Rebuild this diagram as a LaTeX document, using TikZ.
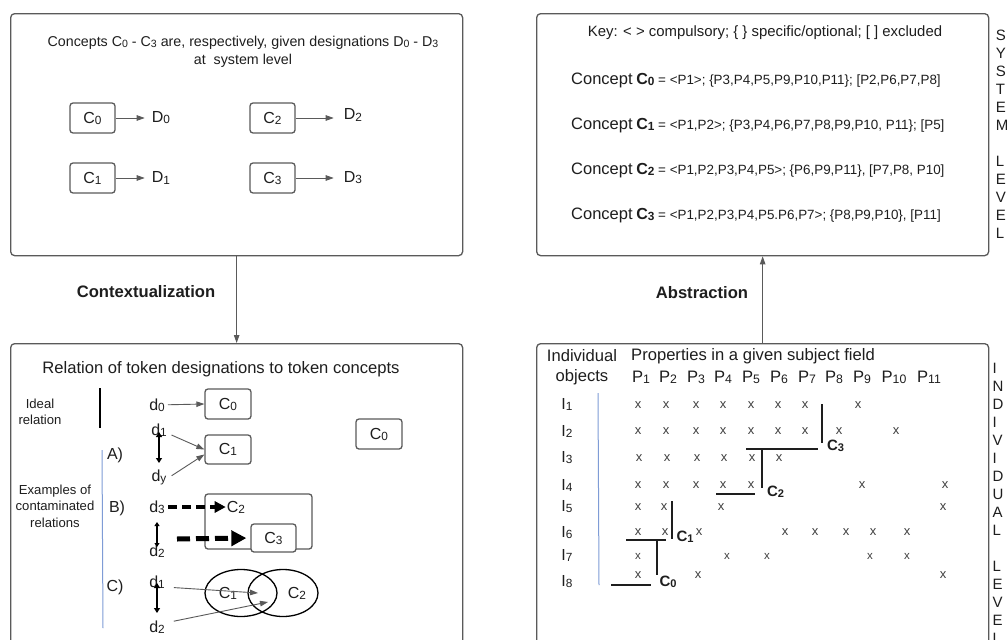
\documentclass[tikz,border=0pt]{standalone}
\usepackage{fontspec}
\setmainfont{Liberation Sans}
\usetikzlibrary{arrows.meta,shapes.geometric,calc}
\definecolor{gry}{HTML}{5A5A5A}
\definecolor{txt}{HTML}{1E1E1E}
\definecolor{bluel}{HTML}{7F9CD6}
\newcommand\fsz[2]{\fontsize{#1}{#2}\selectfont}
\newcommand\sbs[1]{\raisebox{-0.12ex}{\scalebox{0.74}{#1}}}
\tikzset{
  panel/.style={draw=gry, line width=1.3pt, rounded corners=4pt, anchor=north west, inner sep=0pt},
  cbox/.style={draw=gry, line width=1.3pt, rounded corners=3pt, minimum width=45pt, minimum height=30pt, inner sep=0pt, font=\fsz{16}{18}, fill=white, text=txt},
  arr/.style={draw=gry, line width=0.9pt, -{Triangle[length=8pt,width=5.5pt]}},
  dbl/.style={draw=black, line width=1.8pt, {Triangle[length=5pt,width=6pt]}-{Triangle[length=5pt,width=6pt]}},
  lbl/.style={font=\fsz{16}{18}, inner sep=0pt, text=txt},
  big/.style={font=\fsz{16.6}{19}, inner sep=0pt, text=txt},
  sml/.style={font=\fsz{13.1}{16.5}, inner sep=0pt, text=txt, align=center},
  xm/.style={font=\fsz{13}{14}, inner sep=0pt, text=txt!85},
  xs/.style={font=\fsz{11.5}{12}, inner sep=0pt, text=txt!85},
  brk/.style={draw=txt, line width=1.4pt},
  bl/.style={font=\bfseries\fsz{15}{17}, inner sep=0pt, text=txt},
  dsh/.style={draw=black, line width=3.6pt, dash pattern=on 9pt off 5pt, -{Triangle[length=11pt,width=11pt]}},
  dshb/.style={draw=black, line width=5pt, dash pattern=on 13pt off 6pt, -{Triangle[length=15pt,width=15pt]}},
  vlet/.style={font=\fsz{15}{18}, inner sep=0pt, text=txt, align=left},
  conc/.style={anchor=west, inner sep=0pt, text=txt, font=\fsz{13.4}{16}},
}
\newcommand\cw{\fsz{16.5}{18}Concept}
\begin{document}
\begin{tikzpicture}[x=1pt,y=-1pt]
\clip (0,0) rectangle (1007,640);
\fill[white] (0,0) rectangle (1007,640);

% ---------- panels ----------
\node[panel, minimum width=452pt, minimum height=242pt] (tl) at (10,13) {};
\node[panel, minimum width=452pt, minimum height=320pt] (bl) at (10,343) {};
\node[panel, minimum width=452pt, minimum height=242pt] (tr) at (536,13) {};
\node[panel, minimum width=452pt, minimum height=320pt] (br) at (536,343) {};

\draw[arr] (tl.south) -- (bl.north);
\draw[arr] (br.north) -- (tr.south);
\node[font=\bfseries\fsz{16.6}{19}, text=txt] (ctx) at (146,292) {Contextualization};
\node[font=\bfseries\fsz{16.6}{19}, text=txt] (abs) at (702,293) {Abstraction};

% ---------- top left ----------
\node[font=\fsz{14.25}{18.5}, align=center, text=txt, inner sep=0pt] (t1) at (243,52)
  {Concepts C\sbs{0} - C\sbs{3} are, respectively, given designations D\sbs{0} - D\sbs{3}\\at\ \ system level};
\node[cbox] (c0) at (92.5,118) {C\sbs{0}};
\node[cbox] (c1) at (92.5,178) {C\sbs{1}};
\node[cbox] (c2) at (272.5,118) {C\sbs{2}};
\node[cbox] (c3) at (272.5,178) {C\sbs{3}};
\node[lbl] (D0) at (161,118) {D\sbs{0}};
\node[lbl] (D1) at (161,178) {D\sbs{1}};
\node[lbl] (D2) at (353,115) {D\sbs{2}};
\node[lbl] (D3) at (353,178) {D\sbs{3}};
\draw[arr, shorten >=7pt] (c0) -- (D0);
\draw[arr, shorten >=7pt] (c1) -- (D1);
\draw[arr, shorten >=10pt] (c2.east) -- (c2.east -| D2.west);
\draw[arr, shorten >=10pt] (c3) -- (D3);

% ---------- top right ----------
\node[font=\fsz{14.9}{17}, text=txt, inner sep=0pt] (key) at (765,33)
  {Key: < > compulsory; \{ \} specific/optional; [ ] excluded};
\node[conc] (k0) at (571,80)
  {{\cw} {\bfseries\fsz{16}{18}C\sbs{0}} = <P1>; \{P3,P4,P5,P9,P10,P11\}; [P2,P6,P7,P8]};
\node[conc] (k1) at (571,125)
  {{\cw} {\bfseries\fsz{16}{18}C\sbs{1}} = <P1,P2>; \{P3,P4,P6,P7,P8,P9,P10, P11\}; [P5]};
\node[conc] (k2) at (571,170)
  {{\cw} {\bfseries\fsz{16}{18}C\sbs{2}} = <P1,P2,P3,P4,P5>; \{P6,P9,P11\}, [P7,P8, P10]};
\node[conc] (k3) at (571,215)
  {{\cw} {\bfseries\fsz{16}{18}C\sbs{3}} = <P1,P2,P3,P4,P5.P6,P7>; \{P8,P9,P10\}, [P11]};
\node[vlet] (sys) at (1002,134.5) {S\\Y\\S\\T\\E\\M\\[18pt]L\\E\\V\\E\\L};

% ---------- bottom left ----------
\node[big] (ttl) at (221,369) {Relation of token designations to token concepts};
\node[sml] (ideal) at (40,412) {Ideal\\relation};
\draw[draw=black, line width=1.3pt] (100,388) -- (100,428);
\draw[draw=bluel, line width=1pt] (102,450) -- (103,628);
\node[sml] (ex) at (55,506) {Examples of\\contaminated\\relations};
\node[lbl] (A) at (115,455) {A)};
\node[lbl] (B) at (117,508) {B)};
\node[lbl] (C) at (115,587) {C)};

\node[lbl] (d0) at (157,405) {d\sbs{0}};
\node[cbox, minimum width=46pt] (cc0) at (228,404) {C\sbs{0}};
\draw[arr, shorten <=11pt] (d0.center) -- (cc0.west);

\node[lbl] (d1) at (159,430) {d\sbs{1}};
\node[lbl] (dy) at (159,477) {d\sbs{y}};
\node[cbox, minimum width=46pt, minimum height=29pt] (cc1) at (228,449.5) {C\sbs{1}};
\draw[arr, shorten <=5pt] ([yshift=-3pt]d1.east) -- (cc1.west);
\draw[arr, shorten <=6pt] ([yshift=-2pt]dy.east) -- ([yshift=-5pt]cc1.west);
\draw[dbl] ([yshift=-2pt]d1.center) -- ([yshift=14pt]dy.center);

\node[cbox, minimum width=46pt] (cr0) at (379,434) {C\sbs{0}};

\node[lbl] (d3) at (157,507) {d\sbs{3}};
\node[draw=gry, line width=1.3pt, rounded corners=3pt, minimum width=107pt, minimum height=55pt, inner sep=0pt] (bigc2) at (258.5,521.5) {};
\node[lbl] (c2lab) at (236,507) {C\sbs{2}};
\node[cbox, minimum height=28pt] (cc3) at (273.5,538) {C\sbs{3}};
\node[lbl] (d2) at (157,551) {d\sbs{2}};
\coordinate (bst) at (177,539);
\draw[dsh, shorten <=11pt, shorten >=1pt] (d3.center) -- (c2lab.west);
\draw[dshb, shorten >=4pt] (bst) -- (cc3.west);
\draw[draw=black, line width=1.2pt, {Triangle[length=4pt,width=5pt]}-{Triangle[length=4pt,width=5pt]}] ([yshift=-15pt]d3.center) -- ([yshift=4pt]d2.center);

\node[lbl] (d1c) at (157,582) {d\sbs{1}};
\node[lbl] (d2c) at (157,627) {d\sbs{2}};
\node[ellipse, draw=black, line width=1.3pt, minimum width=72pt, minimum height=47pt, inner sep=0pt] (e1) at (241,593) {};
\node[ellipse, draw=black, line width=1.3pt, minimum width=70pt, minimum height=47pt, inner sep=0pt] (e2) at (283,593) {};
\node[lbl] (e1l) at (228,593) {C\sbs{1}};
\node[lbl] (e2l) at (297,593) {C\sbs{2}};
\coordinate (p1) at (258,593);
\coordinate (p2) at (268,602);
\draw[arr, shorten <=9pt] ([yshift=-5pt]d1c.east) -- (p1);
\draw[arr, shorten <=9pt] ([yshift=4pt]d2c.east) -- (p2);
\draw[dbl] ([yshift=-1pt]d1c.center) -- ([yshift=14pt]d2c.center);

% ---------- bottom right ----------
\node[big] (ind) at (582,356) {Individual};
\node[big] (obj) at (582,377) {objects};
\node[big, anchor=west] (prop) at (631,356) {Properties in a given subject field};
\foreach \n/\x in {1/641,2/668,3/696,4/723,5/751,6/779,7/807,8/834,9/862,10/894,11/929}
  \node[big] (P\n) at (\x,377) {P\sbs{\n}};
\foreach \n/\y in {1/404,2/431,3/458,4/485,5/507,6/533,7/555,8/582}
  \node[lbl] (I\n) at (567,\y) {I\sbs{\n}};
\draw[draw=bluel, line width=1pt] (598,393) -- (599,585);

\foreach \x [count=\k] in {638,666,696,723,751,778,805,858} \node[xm] (xa\k) at (\x,405) {x};
\foreach \x [count=\k] in {638,666,696,723,751,778,805,839,896} \node[xm] (xb\k) at (\x,431) {x};
\foreach \x [count=\k] in {639,667,697,724,752,779} \node[xm] (xc\k) at (\x,458) {x};
\foreach \x [count=\k] in {638,666,696,723,751,862,945} \node[xm] (xd\k) at (\x,485) {x};
\foreach \x [count=\k] in {638,664,721,943} \node[xm] (xe\k) at (\x,507) {x};
\foreach \x [count=\k] in {638,665,699,785,815,846,873,907} \node[xm] (xf\k) at (\x,532) {x};
\foreach \x [count=\k] in {638,727,767,870,907} \node[xs] (xg\k) at (\x,556) {x};
\foreach \x [count=\k] in {638,698,943} \node[xm] (xh\k) at (\x,575) {x};

\draw[brk] (822,404) -- (822,443);
\draw[brk] (746,449) -- (818,449);
\node[bl] (bc3) at (835.5,446) {C\sbs{3}};
\draw[brk] (762,449) -- (762,488);
\draw[brk] (716,494) -- (755,494);
\node[bl] (bc2) at (775.5,492) {C\sbs{2}};
\draw[brk] (672,501) -- (672,539);
\draw[brk] (626,540) -- (666,540);
\node[bl] (bc1) at (685,537) {C\sbs{1}};
\draw[brk] (657,540) -- (657,575);
\draw[brk] (611,585) -- (651,585);
\node[bl] (bc0) at (668,582) {C\sbs{0}};

\node[vlet] (indl) at (998,503) {I\\N\\D\\I\\V\\I\\D\\U\\A\\L\\[18pt]L\\E\\V\\E\\L};
\end{tikzpicture}
\end{document}
